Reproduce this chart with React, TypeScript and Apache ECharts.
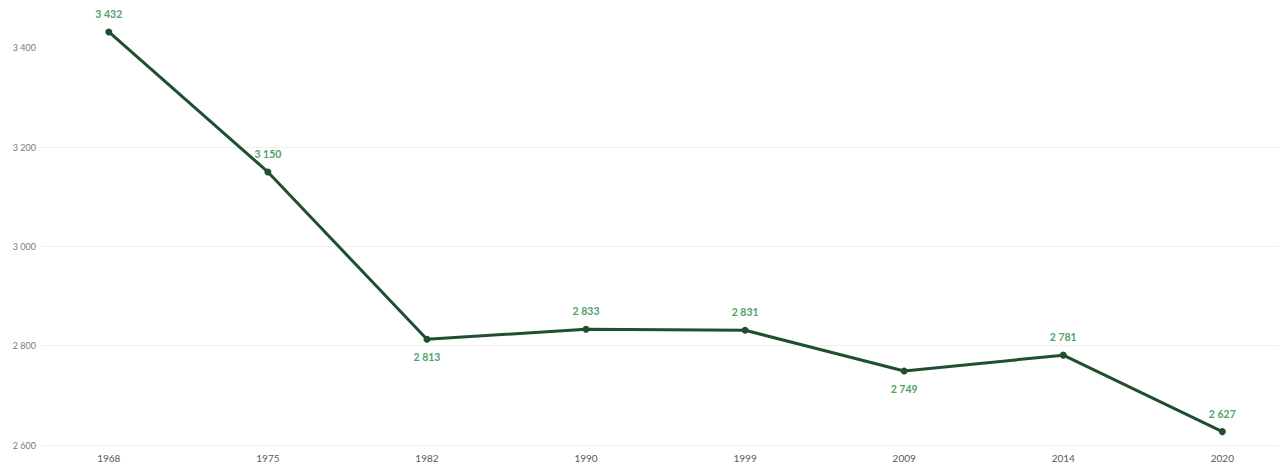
import React, { useEffect, useRef } from "react";
import * as echarts from "echarts";

// Census years and population values
const years = ["1968", "1975", "1982", "1990", "1999", "2009", "2014", "2020"];
const population = [3432, 3150, 2813, 2833, 2831, 2749, 2781, 2627];
const labelPositions = ["top", "top", "bottom", "top", "top", "bottom", "top", "top"];
const yTicks = [2600, 2800, 3000, 3200, 3400];

const fmt = (v: number) => {
  const s = String(Math.round(v));
  return s.replace(/\B(?=(\d{3})+(?!\d))/g, " ");
};

export default function App() {
  const ref = useRef<HTMLDivElement>(null);

  useEffect(() => {
    if (!ref.current) return;
    const chart = echarts.init(ref.current, null, { renderer: "svg" });
    const idx = years.map((_, i) => i);
    chart.setOption({
      animation: false,
      backgroundColor: "#ffffff",
      textStyle: { fontFamily: "Lato, 'Open Sans', sans-serif" },
      grid: { left: 42, right: 2, top: 23, bottom: 22, containLabel: false },
      xAxis: {
        type: "value",
        min: -0.42,
        max: 7.35,
        axisLine: { show: false },
        axisTick: { show: false, customValues: idx },
        splitLine: { show: false },
        axisLabel: {
          customValues: idx,
          formatter: (v: number) => years[Math.round(v)] ?? "",
          color: "#595959",
          fontSize: 10,
          margin: 8,
        },
      },
      yAxis: {
        type: "value",
        min: 2600,
        max: 3450,
        axisLine: { show: false },
        axisTick: { show: false, customValues: yTicks },
        axisLabel: {
          customValues: yTicks,
          formatter: (v: number) => fmt(v),
          color: "#7a7a7a",
          fontSize: 9,
          margin: 6,
          align: "right",
        },
        splitLine: {
          show: true,
          showMaxLine: false,
          lineStyle: { color: "#efefef", width: 1 },
        },
      },
      series: [
        {
          type: "line",
          data: population.map((v, i) => ({
            value: [i, v],
            label: { position: labelPositions[i] },
          })),
          clip: false,
          symbol: "circle",
          symbolSize: 7,
          lineStyle: { color: "#1f4f2f", width: 3 },
          itemStyle: { color: "#1f4f2f" },
          label: {
            show: true,
            formatter: (p: any) => fmt(p.value[1]),
            color: "#52a06a",
            fontSize: 10.5,
            fontWeight: "bold",
            distance: 9,
          },
        },
      ],
    });
    return () => chart.dispose();
  }, []);

  return (
    <div
      ref={ref}
      style={{ position: "fixed", left: 0, top: 0, width: 1280, height: 467 }}
    />
  );
}
